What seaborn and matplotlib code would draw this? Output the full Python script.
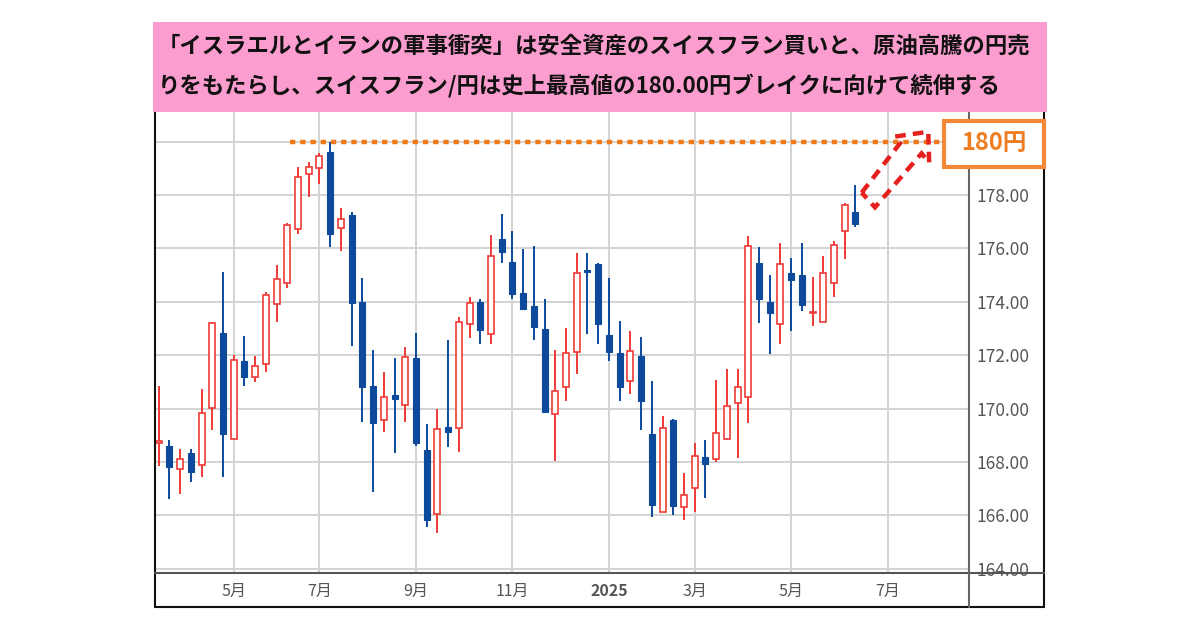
import matplotlib
matplotlib.use("Agg")
import matplotlib.pyplot as plt
from matplotlib.patches import Rectangle, Polygon
from matplotlib.lines import Line2D
import numpy as np
import seaborn as sns

# weekly CHF/JPY candles
opens = [168.70, 168.60, 167.75, 168.35, 167.90, 170.04, 172.82, 168.88, 171.79, 171.20,
         171.66, 173.91, 174.72, 176.74, 178.79, 179.00, 179.63, 176.76, 177.25, 174.01,
         170.85, 169.58, 170.51, 170.14, 171.89, 168.45, 166.04, 169.33, 169.27, 173.17,
         174.01, 172.80, 176.36, 175.48, 174.32, 173.85, 172.97, 169.79, 170.82, 172.11,
         175.19, 175.42, 172.76, 172.07, 171.04, 171.97, 169.05, 166.14, 169.58, 166.31,
         167.02, 168.18, 168.12, 168.86, 170.20, 170.45, 175.47, 174.01, 173.17, 175.09,
         175.01, 173.58, 173.26, 174.72, 176.65, 177.38]
highs = [170.85, 168.83, 168.49, 168.50, 170.73, 173.24, 175.11, 172.02, 172.72, 171.97,
         174.38, 175.38, 176.94, 179.06, 179.25, 179.59, 180.00, 177.51, 177.38, 174.91,
         172.20, 171.36, 171.89, 172.30, 172.82, 169.43, 169.98, 172.57, 173.45, 174.17,
         174.11, 176.51, 177.29, 176.67, 175.98, 176.09, 174.10, 172.20, 173.03, 175.84,
         175.84, 175.44, 174.88, 173.28, 172.91, 172.67, 171.04, 169.73, 169.60, 167.60,
         168.70, 168.82, 171.08, 171.48, 171.48, 176.47, 176.04, 175.01, 176.19, 175.66,
         176.19, 174.94, 175.73, 176.29, 177.71, 178.37]
lows = [167.85, 166.61, 166.81, 167.27, 167.43, 169.20, 167.43, 168.85, 170.85, 171.01,
        171.39, 173.26, 174.51, 176.54, 177.94, 178.42, 176.07, 175.92, 172.35, 169.49,
        166.87, 169.14, 168.35, 169.49, 168.60, 165.58, 165.36, 168.58, 168.37, 172.64,
        172.42, 172.42, 175.45, 174.11, 173.70, 172.57, 169.83, 168.04, 170.29, 171.30,
        172.79, 172.41, 171.79, 170.29, 170.54, 169.20, 165.93, 166.12, 166.02, 165.83,
        166.12, 166.65, 168.00, 168.84, 168.15, 169.46, 173.20, 172.05, 172.42, 172.89,
        173.67, 173.10, 173.24, 174.20, 175.59, 176.79]
closes = [168.78, 167.81, 168.13, 167.63, 169.85, 173.20, 169.05, 171.82, 171.18, 171.60,
          174.27, 174.85, 176.88, 178.69, 179.04, 179.48, 176.54, 177.09, 173.95, 170.80,
          169.45, 170.43, 170.35, 171.93, 168.70, 165.83, 169.23, 169.14, 173.26, 173.95,
          172.95, 175.72, 175.86, 174.30, 173.72, 173.05, 169.89, 170.67, 172.07, 175.09,
          175.13, 173.16, 172.11, 170.82, 172.17, 170.29, 166.39, 169.27, 166.36, 166.77,
          168.23, 167.92, 169.08, 170.10, 170.83, 176.09, 174.10, 173.57, 175.41, 174.82,
          173.88, 173.62, 175.09, 176.13, 177.63, 176.90]

month_pos = [7, 15, 24, 33, 42, 50, 59, 68]
month_labels = ["5月", "7月", "9月", "11月", "2025", "3月", "5月", "7月"]
price_ticks = [164, 166, 168, 170, 172, 174, 176, 178, 180]
record_high = 180.0

title_lines = ["「イスラエルとイランの軍事衝突」は安全資産のスイスフラン買いと、原油高騰の円売",
               "りをもたらし、スイスフラン/円は史上最高値の180.00円ブレイクに向けて続伸する"]

RED = "#ee3a36"
BLUE = "#0d4a9c"
ORANGE = "#f07a1a"

sns.set_theme(style="whitegrid")
plt.rcParams["font.family"] = ["Noto Sans CJK JP", "DejaVu Sans"]

W, H = 1200, 630
fig = plt.figure(figsize=(12, 6.3), dpi=100)
fig.patch.set_facecolor("white")


def fx(px):
    return px / W


def fy(py):
    return 1 - py / H


ax = fig.add_axes([fx(155), fy(573), fx(969.3) - fx(155), fy(112) - fy(573)])
ax.set_facecolor("white")

x = np.arange(len(opens))
o = np.array(opens)
c = np.array(closes)
hi = np.array(highs)
lo = np.array(lows)
up = c >= o
top = np.maximum(o, c)
bot = np.minimum(o, c)
col = np.where(up, RED, BLUE)

# wicks above and below the body
ax.vlines(x, top, hi, colors=col, lw=1.4, zorder=3)
ax.vlines(x, lo, bot, colors=col, lw=1.4, zorder=3)
h = np.maximum(top - bot, 0.04)
ax.bar(x[up], h[up], bottom=bot[up], width=0.56, facecolor="white",
       edgecolor=RED, linewidth=1.2, zorder=4)
ax.bar(x[~up], h[~up], bottom=bot[~up], width=0.56, color=BLUE,
       edgecolor=BLUE, linewidth=0.8, zorder=4)

# record high line
ax.hlines(record_high, 12.25, 73.3, colors=ORANGE, lw=3.2,
          linestyles=(0, (1.2, 1.1)), zorder=5, clip_on=False)

# dashed arrow pointing at 180
arrow_pts = [(65.58, 178.09), (69.16, 179.94), (68.69, 180.19), (71.79, 180.37),
             (71.88, 179.21), (71.17, 179.56), (66.82, 177.54)]
ax.add_patch(Polygon(arrow_pts, closed=True, fill=False, edgecolor="#e5201e",
                     lw=3.2, ls=(0, (2.4, 1.6)), joinstyle="miter",
                     zorder=6, clip_on=False))

ax.set_xlim(-0.345, 75.62)
ax.set_ylim(163.846, 181.11)
ax.set_xticks(month_pos, month_labels)
ax.set_yticks(price_ticks, [f"{v:.2f}" if v < 180 else "" for v in price_ticks])
ax.yaxis.tick_right()
ax.grid(True, color="#d3d3d3", lw=1.4)
ax.set_axisbelow(True)
ax.tick_params(axis="x", length=0, pad=7, labelsize=11.5, labelcolor="#555555")
ax.tick_params(axis="y", length=0, pad=5, labelsize=12.5, labelcolor="#555555")
ax.get_xticklabels()[4].set_fontweight("bold")
for s in ax.spines.values():
    s.set_visible(False)

# chart frame
frame = [((155, 155), (112, 607), "#111111"), ((155, 1044), (607, 607), "#111111"),
         ((1044, 1044), (112, 607), "#111111"), ((155, 1044), (573, 573), "#555555"),
         ((969.3, 969.3), (112, 607), "#666666")]
for xs, ys, cc in frame:
    fig.add_artist(Line2D([fx(v) for v in xs], [fy(v) for v in ys], color=cc,
                          lw=1.5, transform=fig.transFigure))

# pink title banner
fig.add_artist(Rectangle((fx(153), fy(111.7)), fx(1047) - fx(153), fy(21.7) - fy(111.7),
                         transform=fig.transFigure, facecolor="#fb9dcf",
                         edgecolor="none", zorder=3))
for i, line in enumerate(title_lines):
    fig.text(fx(158), fy(46 + 40 * i), line, fontsize=16.1, fontweight="bold",
             color="#111111", ha="left", va="center", zorder=4)

# 180円 label box
fig.add_artist(Rectangle((fx(944), fy(167)), fx(1044) - fx(944), fy(121) - fy(167),
                         transform=fig.transFigure, facecolor="white",
                         edgecolor="#f5893a", lw=3, zorder=5))
fig.text(fx(994), fy(143), "180円", fontsize=17, fontweight="bold", color="#ef7d22",
         ha="center", va="center", zorder=6)

fig.savefig("out.png", dpi=100, facecolor="white")
